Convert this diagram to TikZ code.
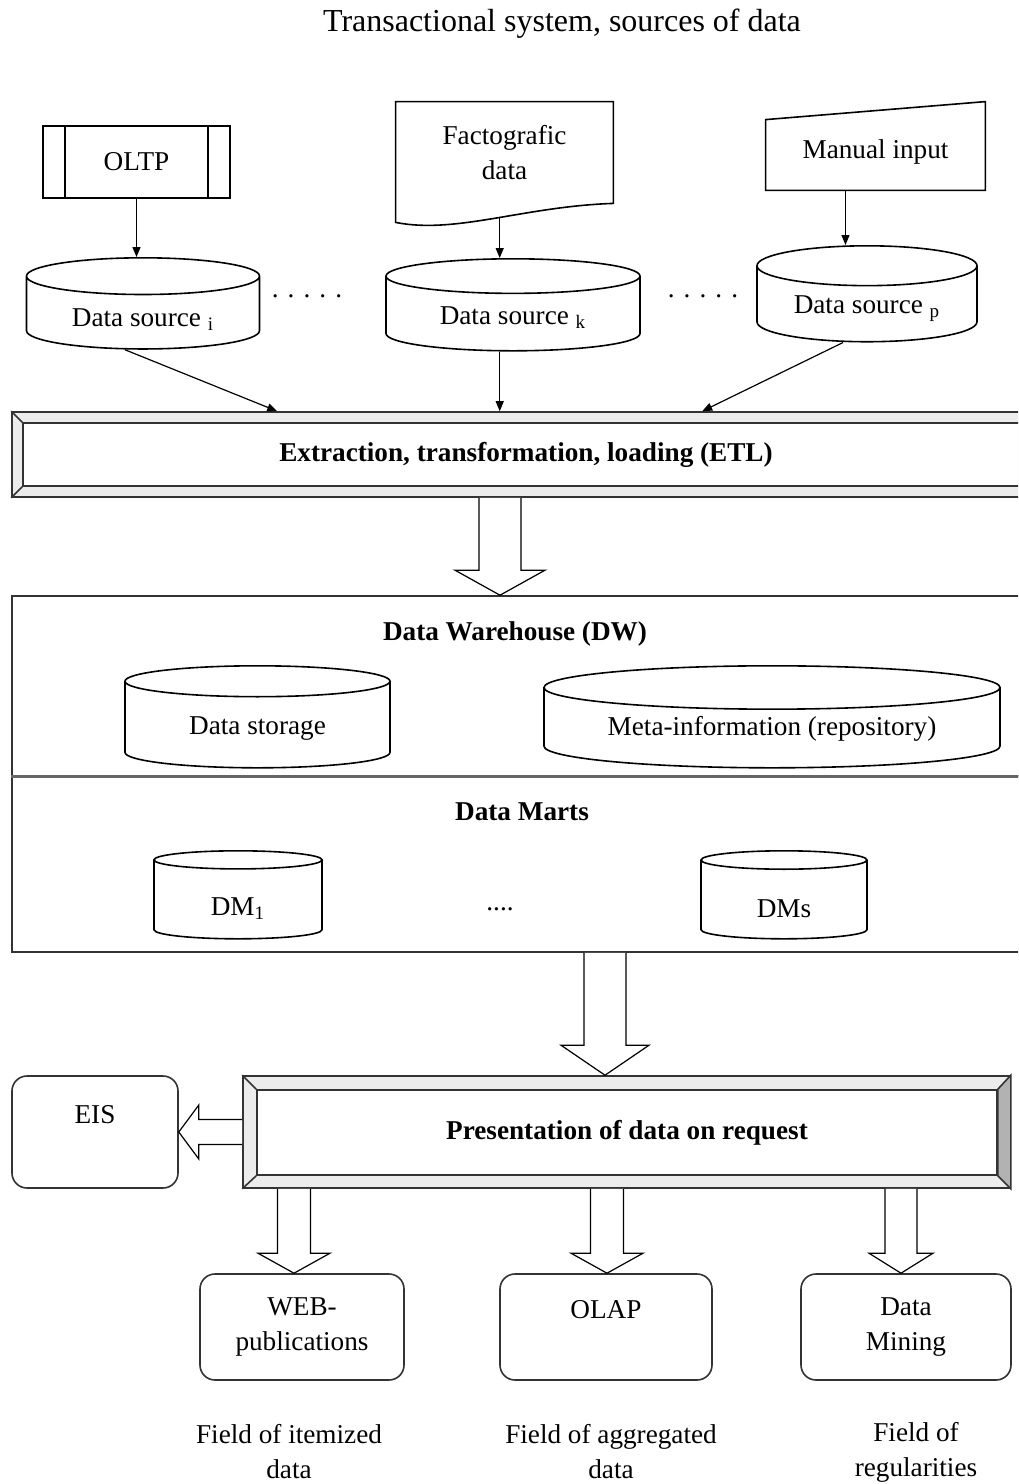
\documentclass[tikz,border=0pt]{standalone}
\usepackage{fontspec}
\setmainfont{Liberation Serif}
\usepackage{tikz}
\usetikzlibrary{calc, positioning, arrows.meta, shapes.geometric}
\tikzset{
    txt/.style={font=\fontsize{13.6}{17.5}\selectfont, align=center},
    srcbox/.style={rectangle, draw=black, thick, fill=white, txt},
    db/.style={cylinder, shape border rotate=90, draw=black, thick, fill=white, txt, inner sep=0pt, anchor=north},
    bar/.style={rectangle, draw=black!80, thick, fill=gray!15},
    barin/.style={rectangle, draw=black!80, thick, fill=white, font=\fontsize{13.6}{17.5}\selectfont\bfseries},
    layer/.style={rectangle, draw=black!80, thick, fill=white},
    heading/.style={font=\fontsize{13.6}{17.5}\selectfont\bfseries},
    tool/.style={rectangle, rounded corners=7.5pt, draw=black!80, thick, fill=white, txt, minimum height=53pt},
    arrow/.style={-{Triangle[length=5pt, width=4pt]}, semithick},
    fatarrow/.style={draw=black, semithick, fill=white}
}
% hollow block arrows
\newcommand{\fatdown}[6]{%
    \draw[fatarrow] let \p1=(#2.south), \p2=(#3.north), \p3=(#1,0) in
        (\x3-#4,\y1) -- (\x3-#4,\y2+#6) -- (\x3-#5,\y2+#6) -- (\x3,\y2)
        -- (\x3+#5,\y2+#6) -- (\x3+#4,\y2+#6) -- (\x3+#4,\y1);}
\newcommand{\fatleft}[2]{%
    \draw[fatarrow] let \p1=(#1.west), \p2=(#2.east) in
        (\x1,\y1+6.25pt) -- (\x2+10pt,\y1+6.25pt) -- (\x2+10pt,\y1+13.5pt) -- (\x2,\y1)
        -- (\x2+10pt,\y1-13.5pt) -- (\x2+10pt,\y1-6.25pt) -- (\x1,\y1-6.25pt);}

\begin{document}
\begin{tikzpicture}[x=0.5pt, y=-0.5pt]
    \useasboundingbox (0,0) rectangle (1018,1484);
    \clip (0,0) rectangle (1018,1484);

    % Sources of data
    \node[txt, font=\fontsize{16}{19}\selectfont] (title) at (562,24) {Transactional system, sources of data};

    \node[srcbox, minimum width=93.5pt, minimum height=36pt] (oltp) at (136.5,162) {OLTP};
    \draw[thick] ([xshift=11.5pt]oltp.north west) -- ([xshift=11.5pt]oltp.south west)
                 ([xshift=-11.5pt]oltp.north east) -- ([xshift=-11.5pt]oltp.south east);

    \node[txt, minimum width=108.5pt, minimum height=50.5pt] (facto) at (504.5,152.5) {Factografic\\data};
    \draw[thick] (facto.north west) -- (facto.north east) -- (facto.south east)
        .. controls +(-90,3) and +(60,12) .. ([yshift=-9.5pt]facto.south west) coordinate[pos=0.47] (factobot) -- cycle;

    \node[txt, minimum width=109.5pt, minimum height=44pt, text height=15pt] (manual) at (875.5,146) {Manual input};
    \draw[thick] (manual.south west) -- ([yshift=-9pt]manual.north west) -- (manual.north east) -- (manual.south east) -- cycle;

    \node[db, minimum width=116.5pt, minimum height=45.5pt, aspect=0.258, text height=15.5pt] (dsi) at (143,257) {Data source \textsubscript{i}};
    \node[db, minimum width=127pt, minimum height=46pt, aspect=0.236, text height=12.5pt] (dsk) at (513,258) {Data source \textsubscript{k}};
    \node[db, minimum width=110pt, minimum height=46.5pt, aspect=0.272, text height=13.5pt] (dsp) at (867,245) {Data source \textsubscript{p}};
    \node[txt] (dots1) at (307,296) {. . . . .};
    \node[txt] (dots2) at (703,296) {. . . . .};

    \draw[arrow] (oltp.south) -- (oltp.south |- dsi.north);
    \draw[arrow] (factobot) -- (factobot |- dsk.north);
    \draw[arrow] ([xshift=-15pt]manual.south) -- ([xshift=-15pt]manual.south |- dsp.north);

    % ETL
    \node[bar, minimum width=514pt, minimum height=42.5pt] (etlo) at (526,454.5) {};
    \node[barin, minimum width=503pt, minimum height=31.5pt] (etl) at (526,454.5) {Extraction, transformation, loading (ETL)};
    \draw[thick, black!80] (etlo.north west) -- (etl.north west) (etlo.south west) -- (etl.south west);
    \coordinate (etlin1) at ([xshift=133pt]etlo.north west);
    \coordinate (etlin3) at ([xshift=345.5pt]etlo.north west);

    \draw[arrow] ([xshift=-9pt]dsi.south) -- (etlin1);
    \draw[arrow] (dsk.south -| factobot) -- (factobot |- etlo.north);
    \draw[arrow] ([xshift=-12pt]dsp.south) -- (etlin3);

    % Data warehouse and data marts
    \node[layer, minimum width=514pt, minimum height=90pt] (dw) at (526,686) {};
    \node[layer, minimum width=514pt, minimum height=88pt] (dm) at (526,864) {};
    \draw[line width=1.5pt, black!60] (dw.south west) -- (dw.south east);
    \fatdown{500}{etlo}{dw}{10.5pt}{22.5pt}{12.5pt}

    \node[heading] (dwlabel) at (515,634) {Data Warehouse (DW)};
    \node[db, minimum width=132.5pt, minimum height=51pt, aspect=0.226, text height=12.5pt] (storage) at (257.5,665) {Data storage};
    \node[db, minimum width=228pt, minimum height=51pt, aspect=0.132, text height=10.5pt] (meta) at (772,665) {Meta-information (repository)};

    \node[heading] (dmlabel) at (522,812) {Data Marts};
    \node[db, minimum width=84pt, minimum height=44pt, aspect=0.333, text height=18pt] (dm1) at (238,850) {DM\textsubscript{1}};
    \node[db, minimum width=83pt, minimum height=44pt, aspect=0.338, text height=18pt] (dms) at (784,850) {DMs};
    \node[txt] (dmdots) at (500,909) {....};

    % Presentation
    \node[bar, minimum width=383.5pt, minimum height=56pt] (preso) at (626.5,1132) {};
    \node[barin, minimum width=370pt, minimum height=42.5pt] (pres) at (627,1132.5) {Presentation of data on request};
    \filldraw[fill=gray!60, draw=black!80, thick] (preso.north east) -- (pres.north east) -- (pres.south east) -- (preso.south east) -- cycle;
    \draw[thick, black!80] (preso.north west) -- (pres.north west) (preso.south west) -- (pres.south west);
    \fatdown{605}{dm}{preso}{10.5pt}{22pt}{15pt}

    \node[tool, minimum width=83pt, minimum height=56pt] (eis) at (95,1132) {EIS\\ \mbox{}};
    \fatleft{preso}{eis}

    \node[tool, minimum width=102pt] (web) at (302,1327) {WEB-\\publications};
    \node[tool, minimum width=106pt] (olap) at (606,1327) {OLAP\\ \mbox{}};
    \node[tool, minimum width=105pt] (mining) at (906,1327) {Data\\Mining};
    \fatdown{294}{preso}{web}{8.25pt}{18pt}{10pt}
    \fatdown{607}{preso}{olap}{8.25pt}{18pt}{10pt}
    \fatdown{901}{preso}{mining}{8pt}{16pt}{10pt}

    \node[txt] (webcap) at (289,1452) {Field of itemized\\data};
    \node[txt] (olapcap) at (611,1452) {Field of aggregated\\data};
    \node[txt] (miningcap) at (916,1452) {Field of\\regularities};
\end{tikzpicture}
\end{document}
